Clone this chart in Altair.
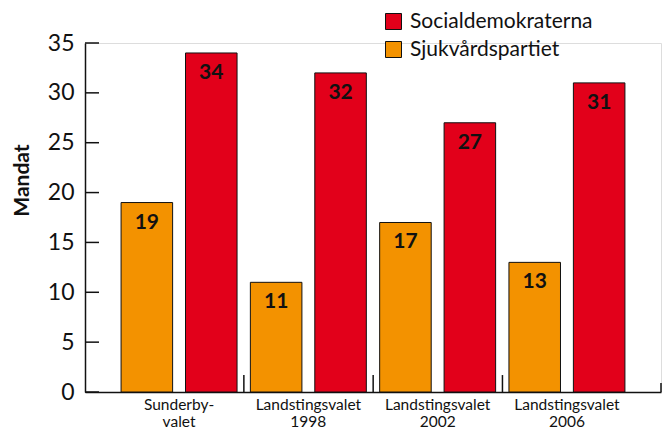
import altair as alt
import pandas as pd

categories = ["Sunderby-|valet", "Landstingsvalet|1998", "Landstingsvalet|2002", "Landstingsvalet|2006"]
parties = ["Socialdemokraterna", "Sjukvårdspartiet"]
bar_order = ["Sjukvårdspartiet", "Socialdemokraterna"]
sjukvard = [19, 11, 17, 13]
socdem = [34, 32, 27, 31]
colors = ["#E2001A", "#F39200"]
y_ticks = [0, 5, 10, 15, 20, 25, 30, 35]

rows = []
for c, s, d in zip(categories, sjukvard, socdem):
    rows.append({"group": c, "party": "Sjukvårdspartiet", "mandat": s})
    rows.append({"group": c, "party": "Socialdemokraterna", "mandat": d})
df = pd.DataFrame(rows)

FONT = "Lato"
W, H = 576, 349

xscale = alt.Scale(domain=categories, paddingInner=0.103, paddingOuter=0.279)
yscale = alt.Scale(domain=[0, 35], nice=False)

base = alt.Chart(df)

bars = base.mark_bar(stroke="#111", strokeWidth=1).encode(
    x=alt.X("group:N", scale=xscale, title=None,
            axis=alt.Axis(labelExpr="split(datum.label, '|')", labelAngle=0,
                          labelFont=FONT, labelFontSize=15.5, labelLineHeight=17,
                          labelColor="#111", labelPadding=5, labelBaseline="top",
                          ticks=False, domainColor="#111", domainWidth=1.5)),
    xOffset=alt.XOffset("party:N", sort=bar_order,
                        scale=alt.Scale(domain=bar_order, paddingInner=0.2, paddingOuter=0)),
    y=alt.Y("mandat:Q", scale=yscale, title="Mandat",
            axis=alt.Axis(values=y_ticks, ticks=False, grid=False, labelFont=FONT,
                          labelFontSize=23, labelColor="#111", labelPadding=11,
                          domainColor="#111", domainWidth=1.5,
                          titleFont=FONT, titleFontSize=21, titleFontWeight="bold",
                          titleColor="#111", titleAngle=270, titleX=-63, titleY=137,
                          titleAlign="center", titleBaseline="middle")),
    color=alt.Color("party:N", scale=alt.Scale(domain=parties, range=colors),
                    legend=alt.Legend(title=None, orient="none", legendX=298, legendY=-32,
                                      symbolType="square", symbolSize=256,
                                      symbolStrokeColor="#111", symbolStrokeWidth=1,
                                      symbolOpacity=1, labelLimit=400,
                                      labelFont=FONT, labelFontSize=21, labelColor="#111",
                                      labelOffset=6, rowPadding=6)),
)

labels = base.mark_text(font=FONT, fontSize=21, fontWeight="bold", color="#111",
                        baseline="middle", dy=20).encode(
    x=alt.X("group:N", scale=xscale),
    xOffset=alt.XOffset("party:N", sort=bar_order,
                        scale=alt.Scale(domain=bar_order, paddingInner=0.2, paddingOuter=0)),
    y=alt.Y("mandat:Q", scale=yscale),
    text=alt.Text("mandat:Q"),
)

bdf = pd.DataFrame({"group": categories[1:]})
boundary_ticks = alt.Chart(bdf).mark_rule(color="#111", strokeWidth=1.5, xOffset=-6.5).encode(
    x=alt.X("group:N", scale=xscale, bandPosition=0),
    y=alt.datum(0),
    y2=alt.datum(1.7),
)

end_tick = alt.Chart(pd.DataFrame({"v": [0]})).mark_rule(color="#111", strokeWidth=1.5).encode(
    x=alt.value(W),
    y=alt.datum(0),
    y2=alt.datum(0.9),
)

ydf = pd.DataFrame({"t": y_ticks})
y_tick_rules = alt.Chart(ydf).mark_rule(color="#111", strokeWidth=1.5).encode(
    y=alt.Y("t:Q", scale=yscale),
    x=alt.value(0),
    x2=alt.value(14),
)

chart = alt.layer(bars, labels, boundary_ticks, end_tick, y_tick_rules).properties(
    width=W, height=H,
    autosize=alt.AutoSizeParams(type="none"),
    padding={"left": 77, "top": 35, "right": 2, "bottom": 40},
).configure_view(stroke=None).configure(background="white")

chart.save("out.html", embed_options={"renderer": "svg", "actions": False})
